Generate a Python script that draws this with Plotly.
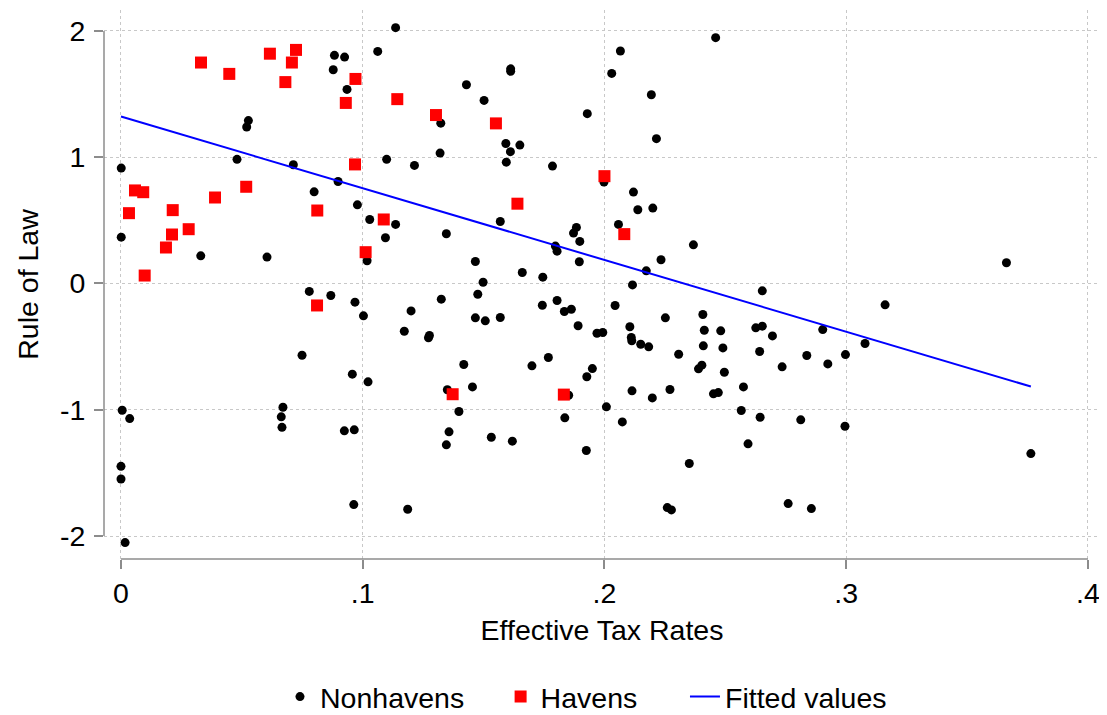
import plotly.graph_objects as go

# Nonhavens (black dots): effective tax rate, rule of law
nonhaven_tax = [
    0.0883, 0.0925, 0.0878, 0.0935, 0.0527, 0.0520, 0.0001, 0.0480, 0.0713, 0.0898,
    0.0799, 0.0978, 0.1136, 0.1062, 0.1323, 0.1429, 0.1502, 0.1612, 0.1612, 0.1929,
    0.1592, 0.1650, 0.1611, 0.1594, 0.1320, 0.1099, 0.1214, 0.1785, 0.1998, 0.2460,
    0.2066, 0.2030, 0.2194, 0.2215, 0.2120, 0.2138, 0.2200, 0.0001, 0.0330, 0.0604,
    0.0779, 0.0868, 0.0968, 0.0749, 0.0957, 0.1029, 0.1136, 0.1094, 0.1018, 0.1346,
    0.1569, 0.1884, 0.1872, 0.1898, 0.1797, 0.1804, 0.1896, 0.1466, 0.1660, 0.1745,
    0.1498, 0.1476, 0.1003, 0.1200, 0.1325, 0.1466, 0.1507, 0.1569, 0.1172, 0.1272,
    0.1276, 0.1743, 0.1804, 0.1834, 0.1863, 0.1891, 0.1969, 0.1993, 0.1768, 0.1700,
    0.1950, 0.1927, 0.1418, 0.1022, 0.1454, 0.1350, 0.1852, 0.2058, 0.2368, 0.2234,
    0.2173, 0.2116, 0.2653, 0.2044, 0.2252, 0.2407, 0.2105, 0.2413, 0.2481, 0.2626,
    0.2653, 0.2695, 0.2903, 0.2111, 0.2113, 0.2150, 0.2183, 0.2409, 0.2490, 0.2307,
    0.2642, 0.2837, 0.2997, 0.2924, 0.2735, 0.2389, 0.2403, 0.2496, 0.2575, 0.2114,
    0.2271, 0.2451, 0.2471, 0.2198, 0.0005, 0.0036, 0.0670, 0.0663, 0.0666, 0.0924,
    0.0965, 0.0000, 0.0000, 0.0963, 0.0017, 0.1398, 0.1357, 0.1346, 0.1532, 0.1619,
    0.1836, 0.1925, 0.2008, 0.1186, 0.2074, 0.2566, 0.2644, 0.2812, 0.2995, 0.2594,
    0.2351, 0.2260, 0.2277, 0.2760, 0.2856, 0.3663, 0.3161, 0.3078, 0.3764,
]
nonhaven_law = [
    1.807, 1.793, 1.693, 1.537, 1.290, 1.239, 0.914, 0.983, 0.940, 0.808,
    0.726, 0.623, 2.026, 1.838, 1.270, 1.574, 1.450, 1.700, 1.680, 1.345,
    1.109, 1.096, 1.044, 0.961, 1.033, 0.983, 0.935, 0.930, 0.803, 1.947,
    1.841, 1.664, 1.495, 1.147, 0.724, 0.584, 0.597, 0.367, 0.219, 0.209,
    -0.063, -0.095, -0.148, -0.568, -0.718, 0.507, 0.468, 0.362, 0.180, 0.394,
    0.491, 0.444, 0.399, 0.333, 0.296, 0.256, 0.172, 0.174, 0.087, 0.050,
    0.010, -0.085, -0.256, -0.217, -0.124, -0.272, -0.296, -0.269, -0.378, -0.430,
    -0.412, -0.172, -0.135, -0.222, -0.204, -0.335, -0.394, -0.388, -0.586, -0.652,
    -0.674, -0.739, -0.642, -0.779, -0.819, -0.842, -0.885, 0.468, 0.306, 0.188,
    0.100, -0.011, -0.058, -0.174, -0.272, -0.246, -0.343, -0.370, -0.375, -0.351,
    -0.338, -0.415, -0.365, -0.428, -0.454, -0.481, -0.502, -0.494, -0.510, -0.560,
    -0.539, -0.570, -0.563, -0.637, -0.660, -0.676, -0.647, -0.703, -0.819, -0.850,
    -0.840, -0.874, -0.864, -0.906, -1.004, -1.070, -0.980, -1.056, -1.139, -1.167,
    -1.159, -1.448, -1.548, -1.751, -2.052, -1.014, -1.175, -1.278, -1.218, -1.249,
    -1.064, -1.323, -0.977, -1.788, -1.096, -1.006, -1.059, -1.080, -1.131, -1.270,
    -1.426, -1.775, -1.793, -1.743, -1.783, 0.164, -0.169, -0.475, -1.347,
]

# Havens (red squares)
haven_tax = [
    0.0331, 0.0448, 0.0616, 0.0724, 0.0707, 0.0680, 0.0970, 0.0930, 0.0968, 0.0058,
    0.0092, 0.0518, 0.0389, 0.0033, 0.0214, 0.0812, 0.0211, 0.0280, 0.0186, 0.0098,
    0.0811, 0.1143, 0.1303, 0.1551, 0.2000, 0.1640, 0.1087, 0.1012, 0.2082, 0.1372,
    0.1832,
]
haven_law = [
    1.750, 1.660, 1.820, 1.850, 1.750, 1.595, 1.620, 1.430, 0.943, 0.737,
    0.723, 0.766, 0.681, 0.557, 0.581, 0.578, 0.388, 0.430, 0.285, 0.063,
    -0.174, 1.460, 1.334, 1.268, 0.850, 0.632, 0.507, 0.248, 0.391, -0.877,
    -0.880,
]

# Fitted values line (endpoints)
fit_tax = [0.0, 0.3764]
fit_law = [1.323, -0.816]

x_ticks = [0, 0.1, 0.2, 0.3, 0.4]
x_tick_labels = ["0", ".1", ".2", ".3", ".4"]
y_ticks = [-2, -1, 0, 1, 2]
y_tick_labels = ["-2", "-1", "0", "1", "2"]

FONT = "Liberation Sans, Arial, Helvetica, sans-serif"
FS = 28.5

fig = go.Figure()
fig.add_trace(go.Scatter(x=nonhaven_tax, y=nonhaven_law, mode="markers", name="Nonhavens",
                         marker=dict(symbol="circle", size=9, color="black"), legend="legend"))
fig.add_trace(go.Scatter(x=haven_tax, y=haven_law, mode="markers", name="Havens",
                         marker=dict(symbol="square", size=12, color="#ff0000"), legend="legend2"))
fig.add_trace(go.Scatter(x=fit_tax, y=fit_law, mode="lines", name="Fitted values",
                         line=dict(color="#0000ff", width=2), legend="legend3"))

# Stata-style axis lines spanning only the tick range
fig.add_shape(type="line", xref="paper", yref="y", x0=0, x1=0, y0=-2, y1=2,
              line=dict(color="#8c8c8c", width=1.5))
fig.add_shape(type="line", xref="x", yref="paper", x0=0, x1=0.4, y0=0, y1=0,
              line=dict(color="#8c8c8c", width=1.5))

fig.update_xaxes(
    range=[-0.00703, 0.405], tickvals=x_ticks, ticktext=x_tick_labels,
    showgrid=True, gridcolor="#c8c8c8", griddash="dot", gridwidth=1,
    zeroline=False, showline=False, automargin=False,
    ticks="outside", ticklen=9, tickcolor="#8c8c8c", tickwidth=1.5,
    tickfont=dict(size=FS, color="black"),
    title=dict(text="Effective Tax Rates", font=dict(size=FS, color="black"), standoff=11),
)
fig.update_yaxes(
    range=[-2.182, 2.166], tickvals=y_ticks, ticktext=y_tick_labels,
    showgrid=True, gridcolor="#c8c8c8", griddash="dot", gridwidth=1,
    zeroline=False, showline=False, automargin=False,
    ticks="outside", ticklen=9, tickcolor="#8c8c8c", tickwidth=1.5,
    ticklabelstandoff=3,
    tickfont=dict(size=FS, color="black"),
    title=dict(text="Rule of Law", font=dict(size=FS, color="black"), standoff=12),
)

leg = dict(orientation="h", yref="container", y=0.0254, yanchor="middle", xanchor="left",
           font=dict(size=FS, color="black"), itemsizing="trace", bgcolor="rgba(0,0,0,0)")

# page body has an 8px margin, so the figure is 8px smaller than the window
fig.update_layout(
    width=1099, height=707,
    margin=dict(l=96, r=7, t=2, b=156),
    paper_bgcolor="white", plot_bgcolor="white",
    font=dict(family=FONT, color="black"),
    showlegend=True,
    legend=dict(leg, x=0.1767, visible=True),
    legend2=dict(leg, x=0.3982),
    legend3=dict(leg, x=0.5833),
)

fig.write_html("out.html")
